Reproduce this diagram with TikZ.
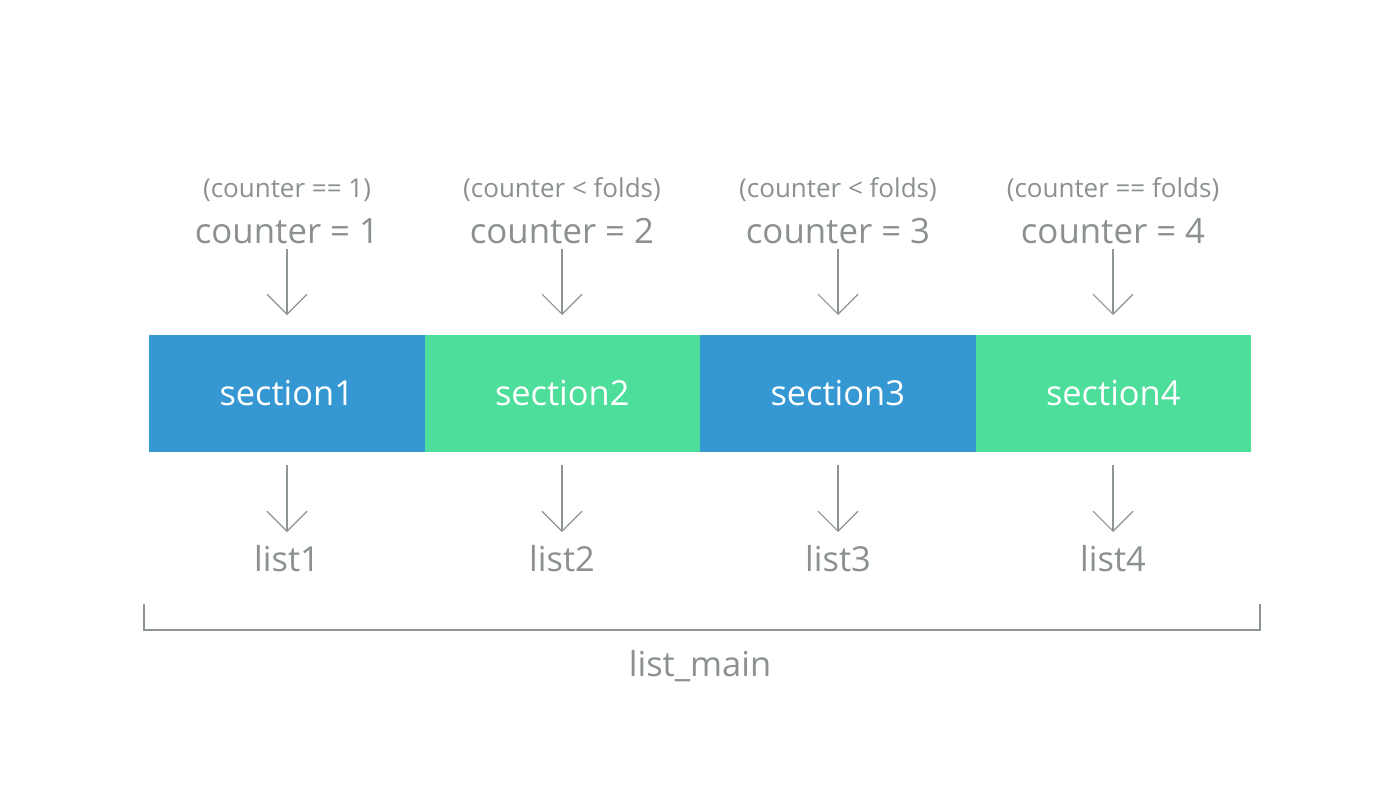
\documentclass[tikz,border=0pt]{standalone}
\usepackage{fontspec}
\setmainfont{Open Sans}
\usetikzlibrary{arrows.meta}
\definecolor{txtgrey}{HTML}{8B9090}
\definecolor{lngrey}{HTML}{8C9494}
\definecolor{secblue}{HTML}{3598D2}
\definecolor{secgreen}{HTML}{4EDE9C}
\begin{document}
\begin{tikzpicture}[x=0.5pt,y=-0.5pt,
  cond/.style={font=\fontsize{13}{15}\selectfont, text=txtgrey, anchor=base, inner sep=0pt},
  cnt/.style={font=\fontsize{17.4}{20}\selectfont, text=txtgrey, anchor=base, inner sep=0pt},
  lst/.style={font=\fontsize{17.2}{20}\selectfont, text=txtgrey, anchor=base, inner sep=0pt},
  secbox/.style={minimum width=137.75pt, minimum height=58.5pt, inner sep=0pt, outer sep=0pt,
     text=white, font=\fontsize{17.2}{20}\selectfont, anchor=north west},
  arr/.style={draw=lngrey, line width=0.6pt, -{Straight Barb[length=10pt,width=20pt,line width=0.6pt]}},
  brk/.style={draw=lngrey, line width=0.8pt}]
\useasboundingbox[fill=white] (0,0) rectangle (1400,788);
% section boxes
\node[secbox, fill=secblue]  (s1) at (149,335) {section1};
\node[secbox, fill=secgreen] (s2) at (424.5,335) {section2};
\node[secbox, fill=secblue]  (s3) at (700,335) {section3};
\node[secbox, fill=secgreen] (s4) at (975.5,335) {section4};
% conditions
\node[cond] (k1) at (287,197) {(counter == 1)};
\node[cond] (k2) at (562,197) {(counter < folds)};
\node[cond] (k3) at (838,197) {(counter < folds)};
\node[cond] (k4) at (1113,197) {(counter == folds)};
% counters
\node[cnt] (c1) at (287,243) {counter = 1};
\node[cnt] (c2) at (562,243) {counter = 2};
\node[cnt] (c3) at (838,243) {counter = 3};
\node[cnt] (c4) at (1113,243) {counter = 4};
% lists
\node[lst] (l1) at (287,571) {list1};
\node[lst] (l2) at (562,571) {list2};
\node[lst] (l3) at (838,571) {list3};
\node[lst] (l4) at (1113,571) {list4};
\node[lst] (lm) at (700,676) {list\_main};
% arrows
\foreach \i in {1,2,3,4}{
  \draw[arr, shorten <=3pt, shorten >=10pt] (c\i.base) -- (c\i.base |- s\i.north);
  \draw[arr, shorten <=6.5pt, shorten >=19.5pt] (l\i.base |- s\i.south) -- (l\i.base);
}
% bracket
\coordinate (bl) at (144,604);
\coordinate (br) at (1260,604);
\draw[brk] (bl) -- (bl |- 0,630) -- (br |- 0,630) -- (br);
\end{tikzpicture}
\end{document}
